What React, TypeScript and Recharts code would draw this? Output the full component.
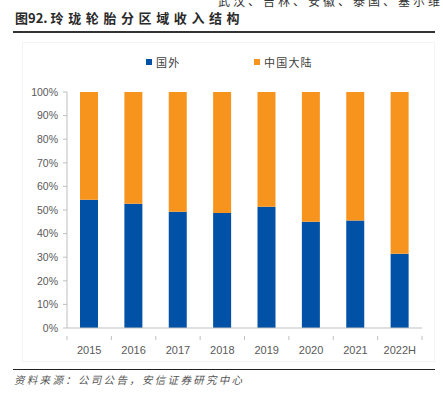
import React from 'react';
import { BarChart, Bar, XAxis, YAxis } from 'recharts';

const years = ['2015', '2016', '2017', '2018', '2019', '2020', '2021', '2022H'];
const overseas = [54.3, 52.6, 49.3, 48.7, 51.4, 45.0, 45.5, 31.5];
const mainland = overseas.map((v) => +(100 - v).toFixed(1));
const yTicks = [0, 10, 20, 30, 40, 50, 60, 70, 80, 90, 100];
const seriesNames = ['国外', '中国大陆'];

const data = years.map((year, i) => ({ year, 国外: overseas[i], 中国大陆: mainland[i] }));

const BLUE = '#0152A6';
const ORANGE = '#F7941D';
const AXIS = '#BFBFBF';
const LABEL = '#595959';
const CJK = "'Noto Sans CJK SC', sans-serif";

const W = 443;
const PLOT_LEFT = 67;
const PLOT_RIGHT = 21;
const HALF_BAND = (W - PLOT_LEFT - PLOT_RIGHT) / years.length / 2;

function XTick({ x, y, payload, index }: any) {
  const last = index === years.length - 1;
  return (
    <g>
      <line x1={x - HALF_BAND} x2={x - HALF_BAND} y1={y} y2={y + 4} stroke={AXIS} />
      {last && <line x1={x + HALF_BAND} x2={x + HALF_BAND} y1={y} y2={y + 4} stroke={AXIS} />}
      <text x={x} y={y + 18} textAnchor="middle" fill={LABEL} fontSize={11} fontFamily="'Liberation Sans', Arial, sans-serif">
        {payload.value}
      </text>
    </g>
  );
}

function ChartLegend() {
  const colors = [BLUE, ORANGE];
  const pos = [146, 254];
  return (
    <>
      {seriesNames.map((name, i) => (
        <div key={name} style={{ position: 'absolute', left: pos[i], top: 54, display: 'flex', alignItems: 'center' }}>
          <span style={{ width: 6, height: 6, background: colors[i], display: 'inline-block', marginRight: 4 }} />
          <span style={{ fontSize: 11, letterSpacing: 1.2, color: '#404040', fontFamily: CJK }}>{name}</span>
        </div>
      ))}
    </>
  );
}

export default function App() {
  return (
    <div style={{ position: 'absolute', left: 0, top: 0, width: W, height: 398, background: '#fff', overflow: 'hidden' }}>
      <div style={{ position: 'absolute', left: 218, top: -8, fontSize: 12, color: '#333', letterSpacing: 3, whiteSpace: 'nowrap', fontFamily: CJK }}>
        武汉、吉林、安徽、泰国、塞尔维亚
      </div>
      <div style={{ position: 'absolute', left: 15, top: 8, fontSize: 13, fontWeight: 'bold', color: '#2a2a2a', whiteSpace: 'nowrap', fontFamily: CJK }}>
        图92.<span style={{ marginLeft: 3, letterSpacing: 4.6 }}>玲珑轮胎分区域收入结构</span>
      </div>
      <div style={{ position: 'absolute', left: 13, top: 31, width: 422, height: 2, background: '#333' }} />
      <div style={{ position: 'absolute', left: 22, top: 42, width: 413, height: 320, border: '1px solid #f4f4f4', boxSizing: 'border-box' }} />
      <ChartLegend />
      <div style={{ position: 'absolute', left: 0, top: 0 }}>
        <BarChart width={W} height={398} data={data} barSize={18} margin={{ top: 92, right: PLOT_RIGHT, left: 0, bottom: 40 }}>
          <XAxis dataKey="year" stroke={AXIS} tickLine={false} height={30} interval={0} tick={<XTick />} />
          <YAxis
            width={PLOT_LEFT}
            domain={[0, 100]}
            ticks={yTicks}
            tickFormatter={(v) => `${v}%`}
            stroke={AXIS}
            tickSize={4}
            tickMargin={5}
            tick={{ fill: LABEL, fontSize: 10.5, fontFamily: "'Liberation Sans', Arial, sans-serif" }}
          />
          <Bar dataKey="国外" stackId="a" fill={BLUE} isAnimationActive={false} />
          <Bar dataKey="中国大陆" stackId="a" fill={ORANGE} isAnimationActive={false} />
        </BarChart>
      </div>
      <div style={{ position: 'absolute', left: 13, top: 369, width: 422, height: 1, background: '#222' }} />
      <div style={{ position: 'absolute', left: 14, top: 372, fontSize: 10.5, fontStyle: 'italic', letterSpacing: 2.3, color: '#555', whiteSpace: 'nowrap', fontFamily: CJK }}>
        资料来源：公司公告，安信证券研究中心
      </div>
    </div>
  );
}
